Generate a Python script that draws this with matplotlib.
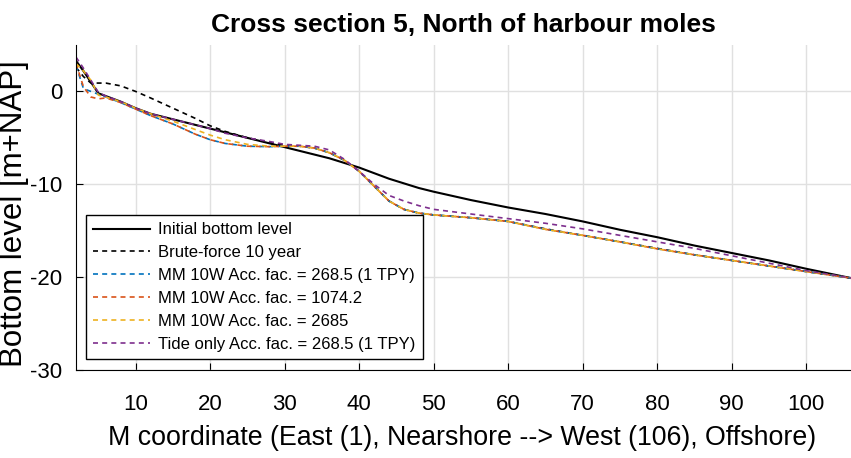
import numpy as np
import matplotlib.pyplot as plt

plt.rcParams['font.family'] = ['Liberation Sans', 'DejaVu Sans']
plt.rcParams['axes.unicode_minus'] = False

# M coordinate of the read-off points
m = [2, 3, 4, 5, 6, 8, 10, 12, 15, 18, 20, 22, 25, 28, 30, 32, 34, 36, 38, 40,
     42, 44, 46, 48, 50, 55, 60, 65, 70, 75, 80, 85, 90, 95, 100, 106]

initial = [3.3, 2.2, 1.0, -0.2, -0.5, -1.1, -1.8, -2.4, -3.0, -3.6, -4.0, -4.4, -5.0, -5.6, -6.0,
           -6.4, -6.8, -7.2, -7.7, -8.2, -8.8, -9.4, -9.9, -10.4, -10.8, -11.7, -12.5, -13.2,
           -14.0, -14.9, -15.7, -16.6, -17.4, -18.2, -19.1, -20.1]
brute = [2.6, 1.6, 0.9, 0.9, 0.9, 0.6, 0.0, -0.7, -1.8, -2.9, -3.7, -4.3, -5.0, -5.5, -5.8,
         -5.9, -6.1, -6.6, -7.4, -8.6, -10.2, -11.8, -12.7, -13.1, -13.3, -13.6, -14.0, -14.8,
         -15.5, -16.2, -16.9, -17.6, -18.2, -18.8, -19.4, -20.1]
mm_268 = [2.8, 0.3, 0.0, -0.3, -0.6, -1.2, -1.9, -2.6, -3.5, -4.6, -5.2, -5.6, -5.9, -5.95, -5.9,
          -5.9, -6.1, -6.6, -7.4, -8.6, -10.2, -11.8, -12.7, -13.1, -13.3, -13.6, -14.0, -14.85,
          -15.5, -16.2, -16.95, -17.6, -18.2, -18.8, -19.4, -20.1]
mm_1074 = [3.0, 0.5, -0.6, -0.8, -0.7, -1.2, -1.9, -2.6, -3.5, -4.6, -5.2, -5.6, -5.9, -5.95, -5.9,
           -5.9, -6.1, -6.6, -7.4, -8.6, -10.2, -11.8, -12.7, -13.1, -13.3, -13.6, -14.0, -14.85,
           -15.5, -16.2, -16.95, -17.6, -18.2, -18.8, -19.4, -20.1]
mm_2685 = [3.0, 2.2, 1.2, -0.4, -0.6, -1.1, -1.8, -2.4, -3.2, -4.1, -4.7, -5.2, -5.7, -5.9, -5.9,
           -5.9, -6.1, -6.6, -7.4, -8.6, -10.2, -11.8, -12.7, -13.1, -13.3, -13.6, -14.0, -14.85,
           -15.5, -16.2, -16.95, -17.6, -18.2, -18.8, -19.4, -20.1]
tide = [3.7, 2.5, 1.2, -0.1, -0.5, -1.1, -1.8, -2.4, -3.0, -3.6, -4.0, -4.5, -5.0, -5.4, -5.7,
        -5.8, -5.9, -6.3, -7.3, -8.6, -10.0, -11.2, -11.8, -12.3, -12.7, -13.2, -13.7, -14.2,
        -14.8, -15.5, -16.2, -16.9, -17.7, -18.5, -19.3, -20.1]

labels = ['Initial bottom level', 'Brute-force 10 year',
          'MM 10W Acc. fac. = 268.5 (1 TPY)', 'MM 10W Acc. fac. = 1074.2',
          'MM 10W Acc. fac. = 2685', 'Tide only Acc. fac. = 268.5 (1 TPY)']

fig = plt.figure(figsize=(8.51, 4.58), dpi=100)
ax = fig.add_axes([76 / 851, 1 - 370 / 458, 775 / 851, 325 / 458])

dash = (0, (3, 2.5))
ax.plot(m, initial, color='black', linestyle='-', linewidth=1.5, label=labels[0])
ax.plot(m, brute, color='black', linestyle=dash, linewidth=1.2, label=labels[1])
ax.plot(m, mm_268, color='#0072BD', linestyle=dash, linewidth=1.2, label=labels[2])
ax.plot(m, mm_1074, color='#D95319', linestyle=dash, linewidth=1.2, label=labels[3])
ax.plot(m, mm_2685, color='#EDB120', linestyle=dash, linewidth=1.2, label=labels[4])
ax.plot(m, tide, color='#7E2F8E', linestyle=dash, linewidth=1.2, label=labels[5])

ax.set_xlim(2, 106)
ax.set_ylim(-30, 5)
ax.set_xticks(np.arange(10, 101, 10))
ax.set_yticks([-30, -20, -10, 0])

ax.spines['top'].set_visible(False)
ax.spines['right'].set_visible(False)
ax.tick_params(direction='in', length=5, labelsize=16, pad=10)
ax.tick_params(axis='x', pad=17)
ax.grid(True, color='#e0e0e0', linewidth=1)

ax.set_xlabel('M coordinate (East (1), Nearshore --> West (106), Offshore)', fontsize=19.3)
ax.xaxis.set_label_coords(0.4987, -0.17)
ax.set_ylabel('Bottom level [m+NAP]', fontsize=22.5)
ax.yaxis.set_label_coords(-0.061, 0.4815)
ax.set_title('Cross section 5, North of harbour moles', fontsize=19, fontweight='bold', pad=9)

leg = ax.legend(loc='lower left', bbox_to_anchor=(0.0129, 0.0338), fontsize=12,
                frameon=True, fancybox=False, edgecolor='black', framealpha=1,
                handlelength=3.4, handletextpad=0.5, borderpad=0.45,
                borderaxespad=0, labelspacing=0.47)
leg.get_frame().set_linewidth(1)

plt.savefig('out.png', dpi=100)
